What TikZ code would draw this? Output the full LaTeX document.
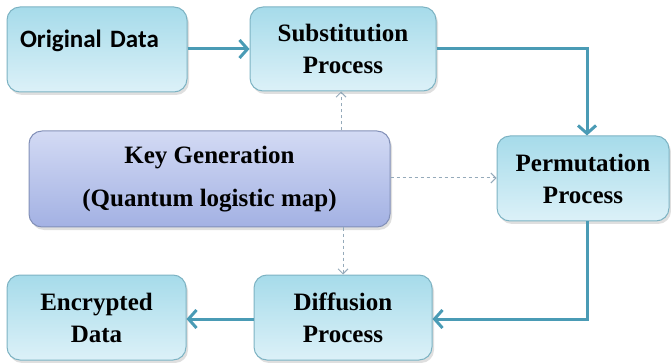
\documentclass[tikz,border=0pt]{standalone}
\usepackage{fontspec}
\setmainfont{Liberation Serif}
\newfontfamily\calibrifont{Carlito}
\usetikzlibrary{arrows.meta,shadows}

\definecolor{stagetop}{HTML}{A6DBEA}
\definecolor{stagebot}{HTML}{DCF1F8}
\definecolor{stageline}{HTML}{7DB3C3}
\definecolor{keytop}{HTML}{D3DAF4}
\definecolor{keybot}{HTML}{A3B1E3}
\definecolor{keyline}{HTML}{8290B8}
\definecolor{flowcol}{HTML}{4A9BB5}
\definecolor{dashcol}{HTML}{95AABA}

\tikzset{
  stage/.style={draw=stageline, line width=1pt, rounded corners=13pt,
    top color=stagetop, bottom color=stagebot, align=center,
    font=\fontsize{25}{32}\selectfont\bfseries,
    drop shadow={opacity=0.25, shadow xshift=2pt, shadow yshift=-3pt}},
  keystage/.style={stage, draw=keyline, top color=keytop, bottom color=keybot,
    font=\fontsize{25}{43}\selectfont\bfseries},
  flow/.style={draw=flowcol, line width=3pt, -{Straight Barb[length=8pt,width=18pt]}},
  keyflow/.style={draw=dashcol, line width=1pt, dashed, -{Straight Barb[length=5pt,width=10pt]}}
}

\begin{document}
\begin{tikzpicture}[x=1pt, y=-1pt]
  \useasboundingbox (0,0) rectangle (671,363);

  \node[stage, minimum width=180pt, minimum height=85pt, text width=154pt, inner xsep=13pt,
        align=left, text height=17pt, text depth=21pt,
        font=\fontsize{25}{30}\selectfont\calibrifont\bfseries] (orig) at (97,49.5) {Original Data};
  \node[stage, minimum width=186pt, minimum height=84pt] (sub) at (343,49) {Substitution\\Process};
  \node[keystage, minimum width=361pt, minimum height=96pt] (key) at (209.5,179) {Key Generation\\(Quantum logistic map)};
  \node[stage, minimum width=172pt, minimum height=85pt] (perm) at (583,178.5) {Permutation\\Process};
  \node[stage, minimum width=178pt, minimum height=85pt] (diff) at (343,317.5) {Diffusion\\Process};
  \node[stage, minimum width=179pt, minimum height=85pt] (enc) at (96.5,317.5) {Encrypted\\Data};

  \coordinate (c1) at (587,49);
  \coordinate (c2) at (587,319);

  \draw[flow] (orig.east |- c1) -- (sub.west |- c1);
  \draw[flow] (sub.east |- c1) -- (c1) -- (perm.north -| c1);
  \draw[flow] (perm.south -| c2) -- (c2) -- (diff.east |- c2);
  \draw[flow] (diff.west |- c2) -- (enc.east |- c2);

  \draw[keyflow] (key.north -| 341,0) -- (sub.south -| 341,0);
  \draw[keyflow] (key.east |- 0,178) -- (perm.west |- 0,178);
  \draw[keyflow] (key.south -| 343,0) -- (diff.north -| 343,0);
\end{tikzpicture}
\end{document}
